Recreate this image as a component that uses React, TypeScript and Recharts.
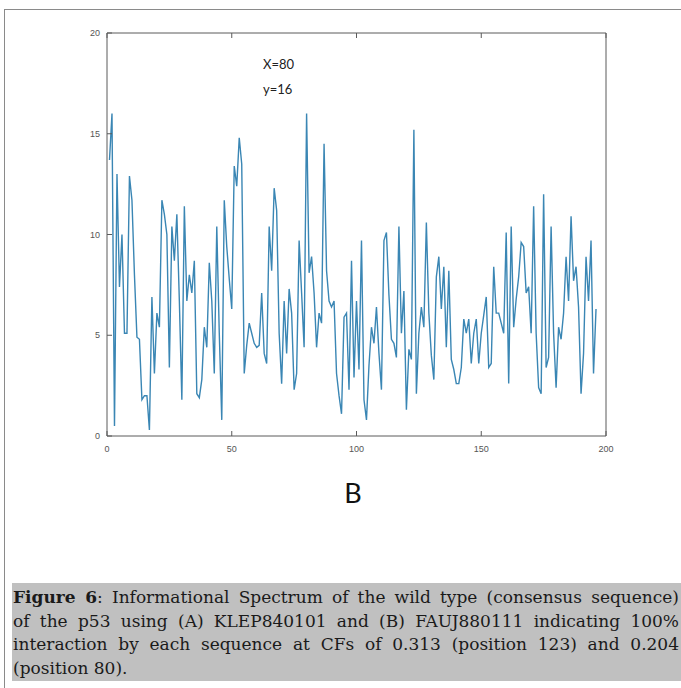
import { LineChart, Line, XAxis, YAxis } from 'recharts';

// informational spectrum, positions 1..196
const spectrumPart1 = [
  13.7, 16.0, 0.5, 13.0, 7.4, 10.0, 5.1, 5.1, 12.9, 11.7,
  8.0, 4.9, 4.8, 1.8, 2.0, 2.0, 0.3, 6.9, 3.1, 6.1,
  5.4, 11.7, 11.0, 10.0, 3.4, 10.4, 8.7, 11.0, 6.7, 1.8,
  11.4, 6.7, 8.0, 7.1, 8.7, 2.1, 1.9, 2.8, 5.4, 4.4,
];
const spectrumPart2 = [
  8.6, 6.7, 3.1, 10.4, 5.1, 0.8, 11.7, 9.4, 7.8, 6.3,
  13.4, 12.4, 14.8, 13.5, 3.1, 4.5, 5.6, 5.1, 4.6, 4.4,
  4.5, 7.1, 4.1, 3.6, 10.4, 8.2, 12.3, 11.2, 5.1, 2.6,
  6.7, 4.1, 7.3, 6.1, 2.3, 3.1, 9.7, 7.1, 4.4, 16.0,
];
const spectrumPart3 = [
  8.1, 8.9, 7.1, 4.4, 6.1, 5.6, 14.5, 8.2, 6.7, 6.4,
  6.7, 3.1, 2.0, 1.1, 5.9, 6.1, 2.3, 8.7, 2.9, 6.7,
  3.3, 9.7, 1.8, 0.8, 3.5, 5.4, 4.6, 6.4, 4.1, 2.3,
  9.7, 10.1, 7.0, 4.8, 4.6, 3.9, 10.4, 5.1, 7.2, 1.3,
];
const spectrumPart4 = [
  4.3, 3.8, 15.2, 2.1, 5.1, 6.4, 5.4, 10.6, 6.1, 4.0,
  2.8, 7.9, 8.9, 6.3, 8.4, 4.4, 8.2, 3.8, 3.3, 2.6,
  2.6, 3.4, 5.8, 5.1, 5.8, 3.6, 5.1, 5.8, 3.6, 5.1,
  6.0, 6.9, 3.4, 3.6, 8.4, 6.1, 6.1, 5.6, 5.1, 10.1,
];
const spectrumPart5 = [
  2.6, 10.4, 5.4, 6.8, 7.9, 9.6, 9.4, 7.1, 7.4, 5.1,
  11.4, 5.1, 2.4, 2.1, 12.0, 3.4, 3.9, 10.4, 5.1, 2.4,
  5.4, 4.8, 6.1, 8.9, 6.7, 10.9, 7.7, 8.4, 6.4, 2.1,
  4.1, 8.9, 6.7, 9.7, 3.1, 6.3,
];

const xTicks = [0, 50, 100, 150, 200];
const yTicks = [0, 5, 10, 15, 20];

const peakLabel = ['X=80', 'y=16'];
const panelLabel = 'B';

const captionLines = [
  'Informational Spectrum of the wild type (consensus sequence)',
  'of the p53 using (A) KLEP840101 and (B) FAUJ880111 indicating 100%',
  'interaction by each sequence at CFs of 0.313 (position 123) and 0.204',
  '(position 80).',
];

const data = [
  ...spectrumPart1,
  ...spectrumPart2,
  ...spectrumPart3,
  ...spectrumPart4,
  ...spectrumPart5,
].map((value, i) => ({ pos: i + 1, value }));

const axisColor = '#5a5a5a';
const labelFont = 'Liberation Sans, Arial, sans-serif';
const TICK_LEN = 5;
const X_GAP = 10;
const Y_GAP = 6;

// ticks drawn inside the box, matlab style
function BottomTick(props: any) {
  const { x, y, payload } = props;
  const axisY = y - X_GAP;
  return (
    <g>
      <line x1={x} x2={x} y1={axisY} y2={axisY - TICK_LEN} stroke={axisColor} />
      <text x={x} y={y} dy="0.71em" textAnchor="middle" fontSize={9} fontFamily={labelFont} fill="#555">
        {payload.value}
      </text>
    </g>
  );
}

function TopTick(props: any) {
  const { x, y } = props;
  return <line x1={x} x2={x} y1={y} y2={y + TICK_LEN} stroke={axisColor} />;
}

function LeftTick(props: any) {
  const { x, y, payload } = props;
  const axisX = x + Y_GAP;
  return (
    <g>
      <line x1={axisX} x2={axisX + TICK_LEN} y1={y} y2={y} stroke={axisColor} />
      <text x={x - 1} y={y} dy="0.355em" textAnchor="end" fontSize={9} fontFamily={labelFont} fill="#555">
        {payload.value}
      </text>
    </g>
  );
}

function RightTick(props: any) {
  const { x, y } = props;
  return <line x1={x} x2={x - TICK_LEN} y1={y} y2={y} stroke={axisColor} />;
}

export default function App() {
  return (
    <div style={{ position: 'absolute', left: 0, top: 0, width: 681, height: 688, overflow: 'hidden', background: '#fff' }}>
      <div
        style={{
          position: 'absolute',
          left: 4,
          top: 9,
          width: 720,
          height: 720,
          borderTop: '1.5px solid #8a8a8a',
          borderLeft: '1.5px solid #8a8a8a',
        }}
      />
      <div style={{ position: 'absolute', left: 0, top: 0 }}>
        <LineChart width={681} height={470} data={data} margin={{ top: 23, right: 65, bottom: 4, left: 77 }}>
          <XAxis
            xAxisId="bottom"
            dataKey="pos"
            type="number"
            domain={[0, 200]}
            ticks={xTicks}
            interval={0}
            height={30}
            stroke={axisColor}
            tickLine={false}
            tickSize={0}
            tickMargin={X_GAP}
            tick={<BottomTick />}
          />
          <XAxis
            xAxisId="top"
            orientation="top"
            dataKey="pos"
            type="number"
            domain={[0, 200]}
            ticks={xTicks}
            interval={0}
            height={10}
            stroke={axisColor}
            tickLine={false}
            tickSize={0}
            tickMargin={0}
            tick={<TopTick />}
          />
          <YAxis
            yAxisId="left"
            type="number"
            domain={[0, 20]}
            ticks={yTicks}
            interval={0}
            width={30}
            stroke={axisColor}
            tickLine={false}
            tickSize={0}
            tickMargin={Y_GAP}
            tick={<LeftTick />}
          />
          <YAxis
            yAxisId="right"
            orientation="right"
            type="number"
            domain={[0, 20]}
            ticks={yTicks}
            interval={0}
            width={10}
            stroke={axisColor}
            tickLine={false}
            tickSize={0}
            tickMargin={0}
            tick={<RightTick />}
          />
          <Line
            xAxisId="bottom"
            yAxisId="left"
            type="linear"
            dataKey="value"
            stroke="#3a86b4"
            strokeWidth={1.4}
            dot={false}
            activeDot={false}
            isAnimationActive={false}
          />
        </LineChart>
      </div>
      <div
        style={{
          position: 'absolute',
          left: 263,
          top: 52,
          fontFamily: 'Lato, "Open Sans", sans-serif',
          fontSize: 13,
          lineHeight: '25px',
          color: '#222',
        }}
      >
        {peakLabel.map((t) => (
          <div key={t}>{t}</div>
        ))}
      </div>
      <div
        style={{
          position: 'absolute',
          left: 0,
          width: 706,
          top: 476,
          textAlign: 'center',
          fontFamily: 'Lato, "Open Sans", sans-serif',
          fontSize: 27,
          lineHeight: '34px',
          color: '#111',
        }}
      >
        {panelLabel}
      </div>
      <div
        style={{
          position: 'absolute',
          left: 12,
          top: 583,
          width: 669,
          height: 98,
          background: '#c0c0c0',
        }}
      >
        <div
          style={{
            padding: '3px 2px 0 1px',
            fontFamily: '"DejaVu Serif", "Liberation Serif", serif',
            fontSize: 17,
            lineHeight: '23.5px',
            color: '#1a1a1a',
          }}
        >
          {captionLines.map((line, i) => (
            <div
              key={i}
              style={{
                whiteSpace: 'nowrap',
                textAlign: i < 3 ? 'justify' : 'left',
                textAlignLast: i < 3 ? 'justify' : 'left',
              }}
            >
              {i === 0 && <b>Figure 6</b>}
              {i === 0 && ': '}
              {line}
            </div>
          ))}
        </div>
      </div>
    </div>
  );
}
